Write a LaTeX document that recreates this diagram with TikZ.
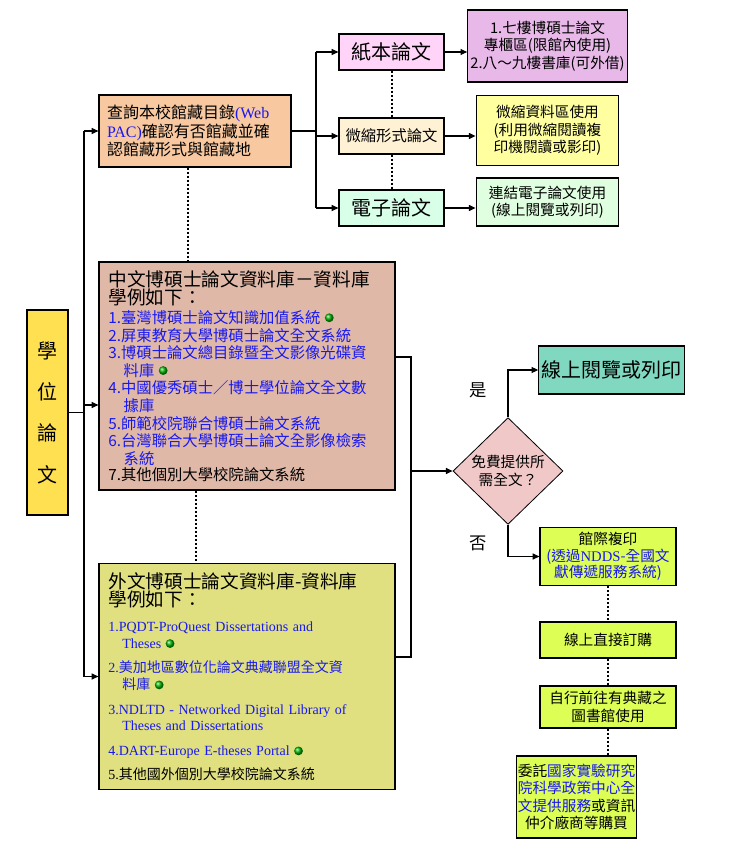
\documentclass[tikz,border=0pt]{standalone}
\usepackage{fontspec}
\setmainfont{Noto Sans CJK TC}
\newfontfamily\lat{Liberation Serif}
\usetikzlibrary{arrows.meta,shapes.geometric}
\definecolor{cRoot}{HTML}{FFE050}
\definecolor{cWeb}{HTML}{F8C8A0}
\definecolor{cPaper}{HTML}{FFD4F8}
\definecolor{cMicro}{HTML}{FFF2D4}
\definecolor{cElec}{HTML}{D8FFE8}
\definecolor{cR1}{HTML}{E8B8E8}
\definecolor{cR2}{HTML}{FFFFA0}
\definecolor{cR3}{HTML}{E0FFE0}
\definecolor{cCdb}{HTML}{E0B8A8}
\definecolor{cFdb}{HTML}{E0E080}
\definecolor{cDia}{HTML}{F0C8C8}
\definecolor{cOnline}{HTML}{80D8C0}
\definecolor{cLime}{HTML}{DDFF55}
\definecolor{cBlue}{HTML}{1818F0}
\newcommand\gdot{\tikz[baseline=-0.7ex]\shade[ball color=green!70!black] (0,0) circle (3.3pt);}
\tikzset{
  box/.style={draw, line width=0.9pt, inner sep=2pt, align=center},
  arr/.style={line width=0.8pt, -{Triangle[length=5pt,width=4.5pt]}},
  ln/.style={line width=0.8pt},
  dots/.style={line width=1.5pt, dash pattern=on 1.5pt off 1.5pt},
}
\begin{document}
\begin{tikzpicture}[x=0.75pt,y=-0.75pt]
\useasboundingbox (0,0) rectangle (732,845);
% root
\node[box, fill=cRoot, minimum width=30.75pt, minimum height=153.75pt, font=\fontsize{15}{31}\selectfont] (root) at (47.5,412.5) {學\\位\\論\\文};
% web pac
\node[box, fill=cWeb, minimum width=144pt, minimum height=54pt, text width=132pt, align=left, font=\fontsize{12}{14}\selectfont] (web) at (195,131) {查詢本校館藏目錄\textcolor{cBlue}{\lat(Web}\\\textcolor{cBlue}{\lat PAC)}確認有否館藏並確\\認館藏形式與館藏地};
% formats
\node[box, fill=cPaper, minimum width=78.75pt, minimum height=27pt, font=\fontsize{15}{17}\selectfont] (paper) at (391.5,52) {紙本論文};
\node[box, fill=cMicro, minimum width=78.75pt, minimum height=27pt, font=\fontsize{11.5}{13}\selectfont] (micro) at (391.5,136) {微縮形式論文};
\node[box, fill=cElec, minimum width=78.75pt, minimum height=27pt, font=\fontsize{15}{17}\selectfont] (elec) at (391.5,208) {電子論文};
% right boxes
\node[box, fill=cR1, minimum width=107pt, minimum height=54pt, font=\fontsize{11}{13}\selectfont] (r1) at (547.5,46) {1.七樓博碩士論文\\專櫃區(限館內使用)\\2.八～九樓書庫(可外借)};
\node[box, fill=cR2, minimum width=107pt, minimum height=53pt, font=\fontsize{11}{13}\selectfont] (r2) at (547.5,130.5) {微縮資料區使用\\(利用微縮閱讀複\\印機閱讀或影印)};
\node[box, fill=cR3, minimum width=107pt, minimum height=36pt, font=\fontsize{11}{13}\selectfont] (r3) at (547.5,202) {連結電子論文使用\\(線上閱覽或列印)};
% chinese db
\node[box, fill=cCdb, minimum width=222pt, minimum height=171pt, text width=208pt, align=left, inner sep=5pt] (cdb) at (247,376) {%
{\fontsize{14}{16}\selectfont 中文博碩士論文資料庫－資料庫\\學例如下：}\par\vspace{1pt}
{\fontsize{11.5}{13.2}\selectfont\color{cBlue}
1.臺灣博碩士論文知識加值系統 \gdot\\
2.屏東教育大學博碩士論文全文系統\\
3.博碩士論文總目錄暨全文影像光碟資\\
\hspace*{1em}料庫 \gdot\\
4.中國優秀碩士／博士學位論文全文數\\
\hspace*{1em}據庫\\
5.師範校院聯合博碩士論文系統\\
6.台灣聯合大學博碩士論文全影像檢索\\
\hspace*{1em}系統\\
\textcolor{black}{7.其他個別大學校院論文系統}}};
% foreign db
\node[box, fill=cFdb, minimum width=222pt, minimum height=170pt, text width=208pt, align=left, inner sep=5pt] (fdb) at (247,676.5) {%
{\fontsize{14}{16}\selectfont 外文博碩士論文資料庫-資料庫\\學例如下：}\par\vspace{6pt}
{\fontsize{10.5}{12.5}\selectfont\color{cBlue}\lat
1.PQDT-ProQuest Dissertations and\\
\hspace*{1em}Theses \gdot\par\vspace{6pt}
2.{\rmfamily 美加地區數位化論文典藏聯盟全文資}\\
\hspace*{1em}{\rmfamily 料庫} \gdot\par\vspace{6pt}
3.NDLTD - Networked Digital Library of\\
\hspace*{1em}Theses and Dissertations\par\vspace{6pt}
4.DART-Europe E-theses Portal \gdot\par\vspace{6pt}
\color{black}5.{\rmfamily 其他國外個別大學校院論文系統}}};
% decision
\node[diamond, draw, line width=0.6pt, fill=cDia, minimum width=82.5pt, minimum height=80pt, inner sep=0pt, align=center, font=\fontsize{11}{13}\selectfont] (dia) at (508,471) {免費提供所\\需全文？};
\node[box, fill=cOnline, minimum width=95pt, minimum height=36pt, font=\fontsize{15}{17}\selectfont] (online) at (611.5,370) {線上閱覽或列印};
\node[box, fill=cLime, minimum width=102pt, minimum height=44pt, font=\fontsize{11}{12.5}\selectfont] (ill) at (608,556.5) {館際複印\\\textcolor{cBlue}{(透過{\lat NDDS}-全國文}\\\textcolor{cBlue}{獻傳遞服務系統)}};
\node[box, fill=cLime, minimum width=102pt, minimum height=27pt, font=\fontsize{11}{13}\selectfont] (buy) at (608,640) {線上直接訂購};
\node[box, fill=cLime, minimum width=102pt, minimum height=31.5pt, font=\fontsize{11}{13}\selectfont] (go) at (608,707) {自行前往有典藏之\\圖書館使用};
\node[box, fill=cLime, minimum width=65pt, minimum height=61.5pt, inner sep=1pt, font=\fontsize{11}{13}\selectfont] (dele) at (576.5,797) {委託\textcolor{cBlue}{國家實驗研究}\\\textcolor{cBlue}{院科學政策中心全}\\\textcolor{cBlue}{文提供服務}或資訊\\仲介廠商等購買};
\node[font=\fontsize{13}{15}\selectfont] (yes) at (478,390) {是};
\node[font=\fontsize{13}{15}\selectfont] (no) at (478,543) {否};
% connectors
\coordinate (bA) at (84,0);
\draw[ln] (root.east) -- (root.east -| bA);
\draw[ln] (bA |- web.west) -- (bA |- fdb.west);
\draw[arr] (bA |- web.west) -- (web.west);
\draw[arr] (84,405) -- (cdb.west |- 0,405);
\draw[arr] (bA |- fdb.west) -- (fdb.west);
\coordinate (bB) at (316,0);
\draw[ln] (web.east) -- (web.east -| bB);
\draw[ln] (bB |- paper.west) -- (bB |- elec.west);
\draw[arr] (bB |- paper.west) -- (paper.west);
\draw[arr] (bB |- micro.west) -- (micro.west);
\draw[arr] (bB |- elec.west) -- (elec.west);
\draw[arr] (paper.east) -- (r1.west |- paper.east);
\draw[arr] (micro.east) -- (r2.west |- micro.east);
\draw[arr] (elec.east) -- (r3.west |- elec.east);
\coordinate (bC) at (411,0);
\draw[ln] (cdb.east |- 0,357) -- (411,357) -- (411,657) -- (fdb.east |- 0,657);
\draw[arr] (bC |- dia.west) -- (dia.west);
\draw[arr] (dia.north) |- (online.west);
\draw[arr] (dia.south) |- (ill.west);
\draw[dots] (paper.south) -- (micro.north);
\draw[dots] (micro.south) -- (elec.north);
\draw[dots] (web.south -| 188,0) -- (cdb.north -| 188,0);
\draw[dots] (cdb.south -| 196,0) -- (fdb.north -| 196,0);
\draw[dots] (ill.south) -- (buy.north);
\draw[dots] (buy.south) -- (go.north);
\draw[dots] (go.south) -- (dele.north -| go.south);
\end{tikzpicture}
\end{document}
